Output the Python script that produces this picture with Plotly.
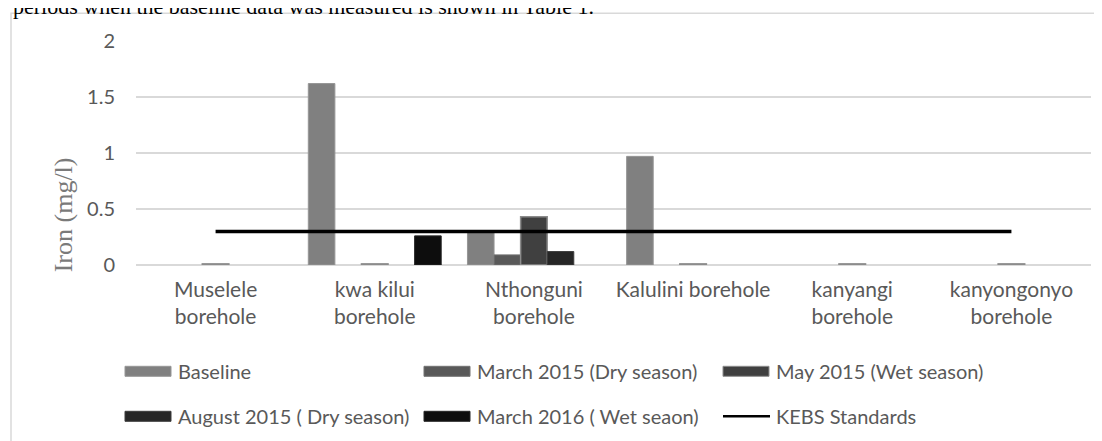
import plotly.graph_objects as go

categories = ["Muselele<br>borehole", "kwa kilui<br>borehole", "Nthonguni<br>borehole",
              "Kalulini borehole", "kanyangi<br>borehole", "kanyongonyo<br>borehole"]
baseline = [None, 1.62, 0.30, 0.97, None, None]
march_2015 = [None, None, 0.09, None, None, None]
may_2015 = [0.01, 0.01, 0.43, 0.01, 0.01, 0.01]
august_2015 = [None, None, 0.12, None, None, None]
march_2016 = [None, 0.26, None, None, None, None]
kebs = [0.3, 0.3, 0.3, 0.3, 0.3, 0.3]
y_ticks = [0, 0.5, 1, 1.5, 2]
y_tick_labels = ["0", "0.5", "1", "1.5", "2"]

series = [
    ("Baseline", baseline, "#808080", "#969696", 1),
    ("March 2015 (Dry season)", march_2015, "#595959", "#727272", 1),
    ("May 2015 (Wet season)", may_2015, "#404040", "#8c8c8c", 1.5),
    ("August 2015 ( Dry season)", august_2015, "#262626", "#3c3c3c", 1),
    ("March 2016 ( Wet seaon)", march_2016, "#0d0d0d", "#262626", 1),
]

fig = go.Figure()
for name, vals, col, lcol, lw in series:
    fig.add_trace(go.Bar(x=categories, y=vals, name=name, marker=dict(color=col, line=dict(color=lcol, width=lw)),
                         showlegend=False))
fig.add_trace(go.Scatter(x=categories, y=kebs, mode="lines", name="KEBS Standards",
                         line=dict(color="#000000", width=3.5), showlegend=False))

# plot area in (reference) page pixels; page body adds an 8px offset
OFF = 8
L, R, T, B = 136, 1091, 40.7, 264.7
W, H = R - L, B - T
def px(x):
    return (x - L) / W
def py(y):
    return (B - y) / H

TXT = "#595959"
FONT = "Lato"
shapes = []
annotations = []

# chart border
shapes.append(dict(type="rect", xref="paper", yref="paper", x0=px(11), x1=px(1125), y0=py(470), y1=py(13),
                   line=dict(color="#d9d9d9", width=1.5), fillcolor="rgba(0,0,0,0)", layer="below"))

# custom legend
legend_items = [
    ("Baseline", "#808080", "#969696", "bar", 125, 371),
    ("March 2015 (Dry season)", "#595959", "#727272", "bar", 424, 371),
    ("May 2015 (Wet season)", "#404040", "#8c8c8c", "bar", 723, 371),
    ("August 2015 ( Dry season)", "#262626", "#3c3c3c", "bar", 125, 416),
    ("March 2016 ( Wet seaon)", "#0d0d0d", "#262626", "bar", 424, 416),
    ("KEBS Standards", "#000000", "#000000", "line", 723, 416),
]
for name, col, lcol, kind, x0, yc in legend_items:
    if kind == "bar":
        shapes.append(dict(type="rect", xref="paper", yref="paper", x0=px(x0), x1=px(x0 + 46),
                           y0=py(yc + 5), y1=py(yc - 5), fillcolor=col, line=dict(color=lcol, width=1)))
    else:
        shapes.append(dict(type="line", xref="paper", yref="paper", x0=px(x0), x1=px(x0 + 47),
                           y0=py(yc), y1=py(yc), line=dict(color=col, width=2.5)))
    annotations.append(dict(text=name, xref="paper", yref="paper", x=px(x0 + 51), y=py(yc),
                            xanchor="left", yanchor="middle", showarrow=False,
                            font=dict(family=FONT, size=20, color=TXT)))

# y axis title
annotations.append(dict(text="Iron (mg/l)", xref="paper", yref="paper", x=px(63), y=py(215),
                        xanchor="center", yanchor="middle", textangle=-90, showarrow=False,
                        font=dict(family="Liberation Serif", size=26, color="#7a7a7a")))

# cut-off body text at top
annotations.append(dict(text="periods when the baseline data was measured is shown in Table 1.",
                        xref="paper", yref="paper", x=px(11), y=py(6), xanchor="left", yanchor="middle",
                        showarrow=False, font=dict(family="Liberation Serif", size=22, color="#000000")))

fig.update_layout(
    width=1102, height=441,
    margin=dict(l=L - OFF, r=1102 - R + OFF, t=T - OFF, b=441 - B + OFF, autoexpand=False),
    paper_bgcolor="white", plot_bgcolor="white",
    barmode="group", bargap=0.165, bargroupgap=0.0,
    shapes=shapes, annotations=annotations, showlegend=False,
    xaxis=dict(showgrid=False, showline=False, zeroline=False, ticks="", ticklabelstandoff=10,
               tickfont=dict(family=FONT, size=21, color=TXT)),
    yaxis=dict(range=[0, 2], tickvals=y_ticks, ticktext=y_tick_labels, showgrid=True, gridcolor="#d9d9d9",
               gridwidth=1.5, zeroline=True, zerolinecolor="#d9d9d9", zerolinewidth=1.5, showline=False,
               ticks="", ticklabelstandoff=20, tickfont=dict(family=FONT, size=20, color=TXT)),
)

fig.write_html("out.html")
